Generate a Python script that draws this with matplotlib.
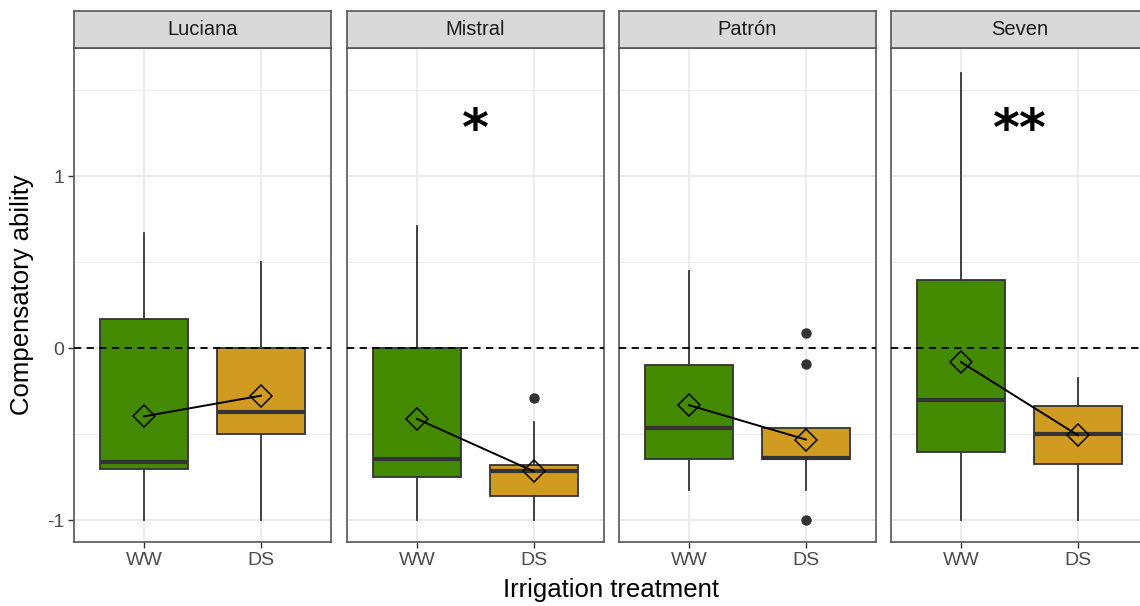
import matplotlib
matplotlib.use('Agg')
import matplotlib.pyplot as plt

plt.rcParams['font.family'] = ['Liberation Sans', 'DejaVu Sans']

# dane
varieties = ['Luciana', 'Mistral', 'Patrón', 'Seven']
treatments = ['WW', 'DS']
whis_lo = [[-1.00, -1.00], [-1.00, -1.00], [-0.82, -0.82], [-1.00, -1.00]]
q1 = [[-0.70, -0.50], [-0.75, -0.86], [-0.64, -0.645], [-0.605, -0.67]]
medians = [[-0.66, -0.37], [-0.64, -0.715], [-0.46, -0.635], [-0.30, -0.50]]
q3 = [[0.17, 0.00], [0.00, -0.68], [-0.095, -0.46], [0.40, -0.335]]
whis_hi = [[0.67, 0.50], [0.71, -0.43], [0.45, -0.46], [1.60, -0.17]]
means = [[-0.395, -0.275], [-0.41, -0.715], [-0.33, -0.53], [-0.08, -0.505]]
outliers = [[[], []], [[], [-0.29]], [[], [0.09, -0.09, -1.00]], [[], []]]
signif = ['', '*', '', '**']

fill_colors = ['#448A00', '#D09B20']
edge = '#333333'

W, H = 1140, 606
fig = plt.figure(figsize=(W / 100, H / 100), dpi=100)

panel_left = [74, 347, 619, 891]
panel_w = 257
top_px, bot_px = 48, 542
strip_top = 11

for i, name in enumerate(varieties):
    ax = fig.add_axes([panel_left[i] / W, 1 - bot_px / H, panel_w / W, (bot_px - top_px) / H])
    stats = []
    for j, t in enumerate(treatments):
        stats.append(dict(med=medians[i][j], q1=q1[i][j], q3=q3[i][j],
                          whislo=whis_lo[i][j], whishi=whis_hi[i][j],
                          fliers=outliers[i][j], mean=means[i][j], label=t))
    bp = ax.bxp(stats, positions=[1, 2], widths=0.75, patch_artist=True,
                showcaps=False, showmeans=False,
                boxprops=dict(edgecolor=edge, linewidth=1.3),
                medianprops=dict(color=edge, linewidth=3),
                whiskerprops=dict(color=edge, linewidth=1.3),
                flierprops=dict(marker='o', markerfacecolor=edge, markeredgecolor=edge,
                                markersize=6.5),
                zorder=3)
    for patch, c in zip(bp['boxes'], fill_colors):
        patch.set_facecolor(c)

    ax.axhline(0, color='black', linestyle=(0, (4, 3)), linewidth=1.3, zorder=4)
    ax.plot([1, 2], means[i], color='black', linewidth=1.4, zorder=5)
    ax.plot([1, 2], means[i], linestyle='none', marker='D', markersize=11.5,
            markerfacecolor='none', markeredgecolor='black', markeredgewidth=1.1, zorder=6)

    if signif[i]:
        ax.text(1.5, 1.265, signif[i], ha='center', va='center', fontsize=37,
                fontweight='bold', color='black', family='DejaVu Sans', zorder=7)

    ax.set_xlim(0.4, 2.6)
    ax.set_ylim(-1.125, 1.745)
    ax.set_xticks([1, 2])
    ax.set_xticklabels(treatments)
    ax.set_yticks([-1, 0, 1])
    ax.set_yticks([-0.5, 0.5, 1.5], minor=True)
    ax.grid(True, which='major', color='#EBEBEB', linewidth=1.3, zorder=0)
    ax.grid(True, which='minor', axis='y', color='#EBEBEB', linewidth=0.7, zorder=0)
    ax.set_axisbelow(True)
    ax.tick_params(axis='both', which='major', length=4, color=edge, width=1,
                   labelsize=14, labelcolor='#4D4D4D', pad=3)
    ax.tick_params(axis='y', which='minor', length=0)
    if i > 0:
        ax.tick_params(axis='y', which='major', length=0, labelleft=False)
    else:
        ax.set_yticklabels(['-1', '0', '1'])
    for sp in ax.spines.values():
        sp.set_color('#555555')
        sp.set_linewidth(1.2)

    sax = fig.add_axes([panel_left[i] / W, 1 - top_px / H, panel_w / W, (top_px - strip_top) / H])
    sax.set_facecolor('#D9D9D9')
    sax.set_xticks([])
    sax.set_yticks([])
    for sp in sax.spines.values():
        sp.set_color('#555555')
        sp.set_linewidth(1.2)
    sax.text(0.5, 0.5, name, ha='center', va='center', fontsize=14.5,
             color='#1A1A1A', transform=sax.transAxes)

fig.text(611 / W, 1 - 590 / H, 'Irrigation treatment', ha='center', va='center',
         fontsize=18.5, color='black')
fig.text(22 / W, 1 - 295 / H, 'Compensatory ability', ha='center', va='center',
         rotation=90, fontsize=18.5, color='black')

fig.savefig('out.png', dpi=100)
